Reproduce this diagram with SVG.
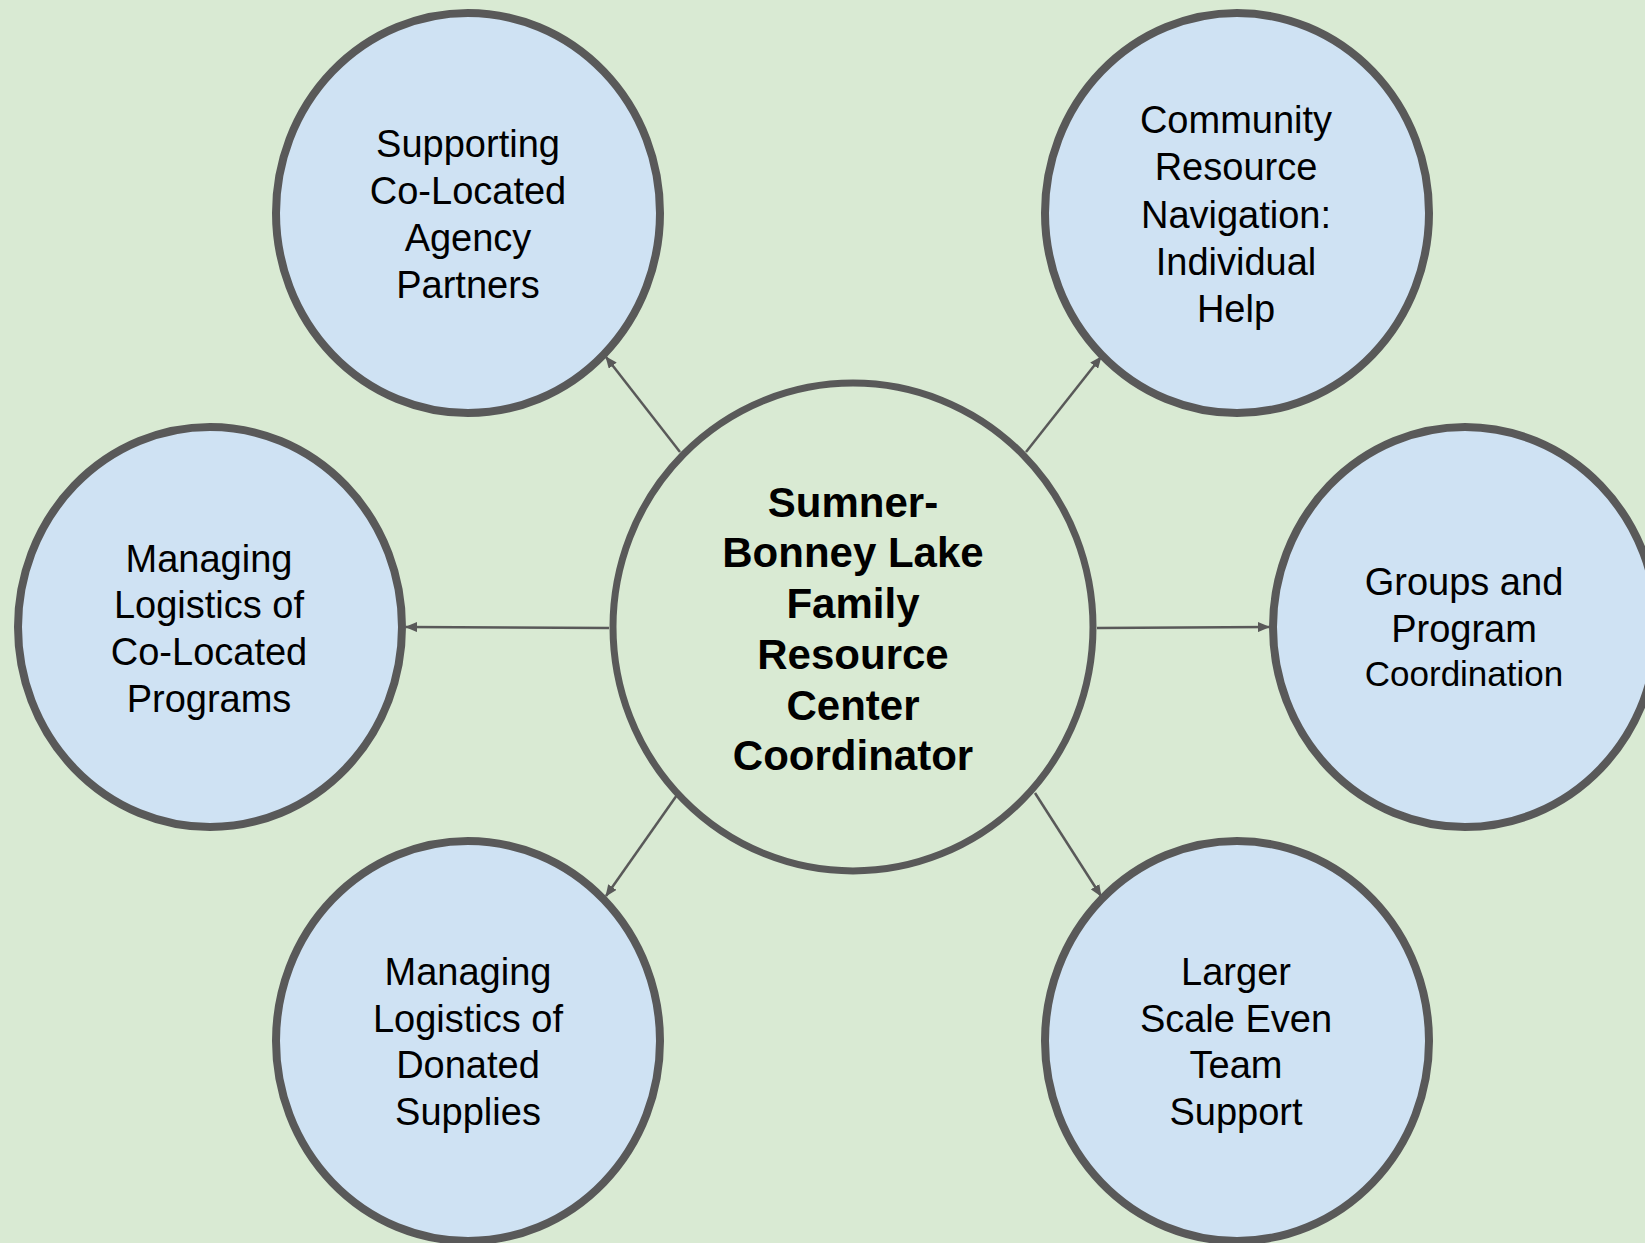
<svg xmlns="http://www.w3.org/2000/svg" width="1645" height="1243" viewBox="0 0 1645 1243">
<style>
.bg{fill:#d9ead3}
.node{fill:#cfe2f3;stroke:#595959;stroke-width:8}
.hub{fill:#d9ead3;stroke:#595959;stroke-width:7}
.t{font-family:"Liberation Sans",Arial,sans-serif;font-size:38px;fill:#000;text-anchor:middle}
.ts{font-size:35px}
.tb{font-family:"Liberation Sans",Arial,sans-serif;font-size:42px;font-weight:bold;fill:#000;text-anchor:middle}
.edge{stroke:#595959;stroke-width:2.5;fill:none;marker-end:url(#ah)}
</style>
<defs>
<marker id="ah" markerUnits="userSpaceOnUse" markerWidth="12" markerHeight="10" refX="11" refY="5" orient="auto">
<path d="M0,0 L12,5 L0,10 Z" fill="#595959"/>
</marker>
</defs>
<rect class="bg" x="0" y="0" width="1645" height="1243"/>
<g id="connectors">
<line class="edge" x1="680" y1="452" x2="606" y2="357"/>
<line class="edge" x1="1026" y1="452" x2="1101" y2="357"/>
<line class="edge" x1="609" y1="628" x2="406" y2="627"/>
<line class="edge" x1="1097" y1="628" x2="1269" y2="627"/>
<line class="edge" x1="677" y1="795" x2="606" y2="896"/>
<line class="edge" x1="1035" y1="793" x2="1101" y2="896"/>
</g>
<g id="hub">
<ellipse class="hub" cx="853" cy="627" rx="240" ry="244"/>
<text class="tb"><tspan x="853" y="517">Sumner-</tspan><tspan x="853" y="567">Bonney Lake</tspan><tspan x="853" y="618">Family</tspan><tspan x="853" y="669">Resource</tspan><tspan x="853" y="720">Center</tspan><tspan x="853" y="770">Coordinator</tspan></text>
</g>
<g id="node-supporting">
<ellipse class="node" cx="468" cy="213" rx="192" ry="200"/>
<text class="t"><tspan x="468" y="157">Supporting</tspan><tspan x="468" y="204">Co-Located</tspan><tspan x="468" y="251">Agency</tspan><tspan x="468" y="298">Partners</tspan></text>
</g>
<g id="node-community">
<ellipse class="node" cx="1237" cy="213" rx="192" ry="200"/>
<text class="t"><tspan x="1236" y="133">Community</tspan><tspan x="1236" y="180">Resource</tspan><tspan x="1236" y="228">Navigation:</tspan><tspan x="1236" y="275">Individual</tspan><tspan x="1236" y="322">Help</tspan></text>
</g>
<g id="node-colocated">
<ellipse class="node" cx="210" cy="627" rx="192" ry="200"/>
<text class="t"><tspan x="209" y="572">Managing</tspan><tspan x="209" y="618">Logistics of</tspan><tspan x="209" y="665">Co-Located</tspan><tspan x="209" y="712">Programs</tspan></text>
</g>
<g id="node-groups">
<ellipse class="node" cx="1465" cy="627" rx="192" ry="200"/>
<text class="t"><tspan x="1464" y="595">Groups and</tspan><tspan x="1464" y="642">Program</tspan><tspan x="1464" y="686" class="ts">Coordination</tspan></text>
</g>
<g id="node-donated">
<ellipse class="node" cx="468" cy="1041" rx="192" ry="200"/>
<text class="t"><tspan x="468" y="985">Managing</tspan><tspan x="468" y="1032">Logistics of</tspan><tspan x="468" y="1078">Donated</tspan><tspan x="468" y="1125">Supplies</tspan></text>
</g>
<g id="node-larger">
<ellipse class="node" cx="1237" cy="1041" rx="192" ry="200"/>
<text class="t"><tspan x="1236" y="985">Larger</tspan><tspan x="1236" y="1032">Scale Even</tspan><tspan x="1236" y="1078">Team</tspan><tspan x="1236" y="1125">Support</tspan></text>
</g>
</svg>
